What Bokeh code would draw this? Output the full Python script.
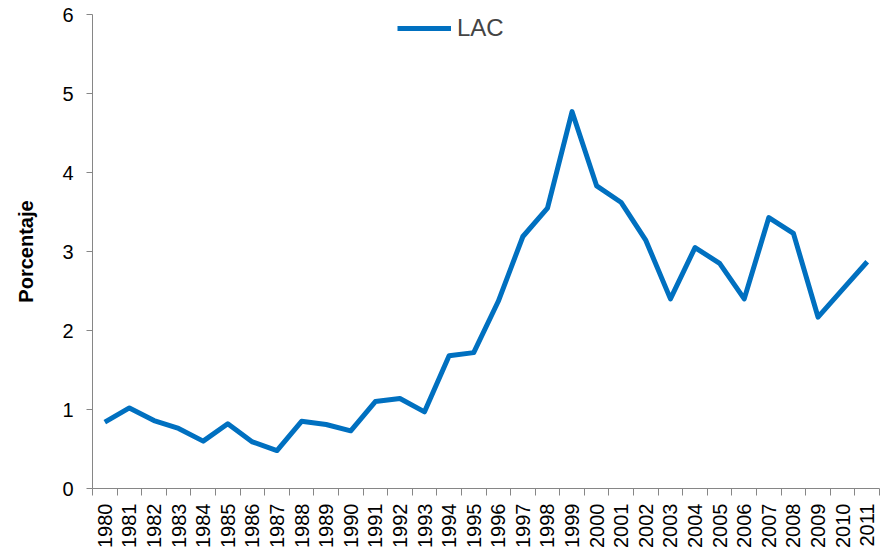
from bokeh.plotting import figure
from bokeh.models import FixedTicker, ColumnDataSource, Legend, LegendItem
from bokeh.embed import file_html
from bokeh.resources import INLINE
import math

years = list(range(1980, 2012))
lac = [0.84, 1.02, 0.86, 0.76, 0.60, 0.82, 0.59, 0.48, 0.85, 0.81, 0.73, 1.10,
       1.14, 0.97, 1.68, 1.72, 2.37, 3.19, 3.55, 4.77, 3.83, 3.62, 3.14, 2.40,
       3.05, 2.85, 2.40, 3.43, 3.23, 2.17, 2.52, 2.87]
y_ticks = [0, 1, 2, 3, 4, 5, 6]
series_name = "LAC"
y_label = "Porcentaje"

src = ColumnDataSource(dict(x=years, y=lac))

p = figure(width=886, height=550, output_backend="svg", toolbar_location=None,
           x_range=(years[0] - 0.5, years[-1] + 0.5), y_range=(0, 6),
           min_border_left=92, min_border_right=7, min_border_top=14, min_border_bottom=62)
p.outline_line_color = None
p.xgrid.visible = False
p.ygrid.visible = False

r = p.line("x", "y", source=src, line_color="#0070C0", line_width=5, line_join="round")

font = "Liberation Sans"
axis_color = "#868686"

p.xaxis.ticker = FixedTicker(ticks=years, minor_ticks=[y - 0.5 for y in years] + [years[-1] + 0.5])
p.xaxis.major_tick_out = 0
p.xaxis.major_tick_in = 0
p.xaxis.minor_tick_out = 7
p.xaxis.minor_tick_in = 0
p.xaxis.minor_tick_line_color = axis_color
p.xaxis.axis_line_color = axis_color
p.xaxis.major_label_orientation = math.pi / 2
p.xaxis.major_label_text_font = font
p.xaxis.major_label_text_font_size = "20px"
p.xaxis.major_label_text_color = "#000000"
p.xaxis.major_label_standoff = 8

p.yaxis.ticker = FixedTicker(ticks=y_ticks)
p.yaxis.minor_tick_line_color = None
p.yaxis.major_tick_out = 6
p.yaxis.major_tick_in = 0
p.yaxis.major_tick_line_color = axis_color
p.yaxis.axis_line_color = axis_color
p.yaxis.major_label_text_font = font
p.yaxis.major_label_text_font_size = "20px"
p.yaxis.major_label_text_color = "#000000"
p.yaxis.major_label_standoff = 13
p.yaxis.axis_label = y_label
p.yaxis.axis_label_text_font = font
p.yaxis.axis_label_text_font_style = "bold"
p.yaxis.axis_label_text_font_size = "20px"
p.yaxis.axis_label_text_color = "#000000"
p.yaxis.axis_label_standoff = 22

legend = Legend(items=[LegendItem(label=series_name, renderers=[r])],
                location=(305, 446), orientation="horizontal",
                background_fill_alpha=0, border_line_color=None,
                label_text_font=font, label_text_font_size="24px",
                glyph_width=54, glyph_height=26, label_height=26,
                margin=0, padding=0, spacing=0, label_standoff=6)
p.add_layout(legend)

open("out.html", "w").write(file_html(p, INLINE))
